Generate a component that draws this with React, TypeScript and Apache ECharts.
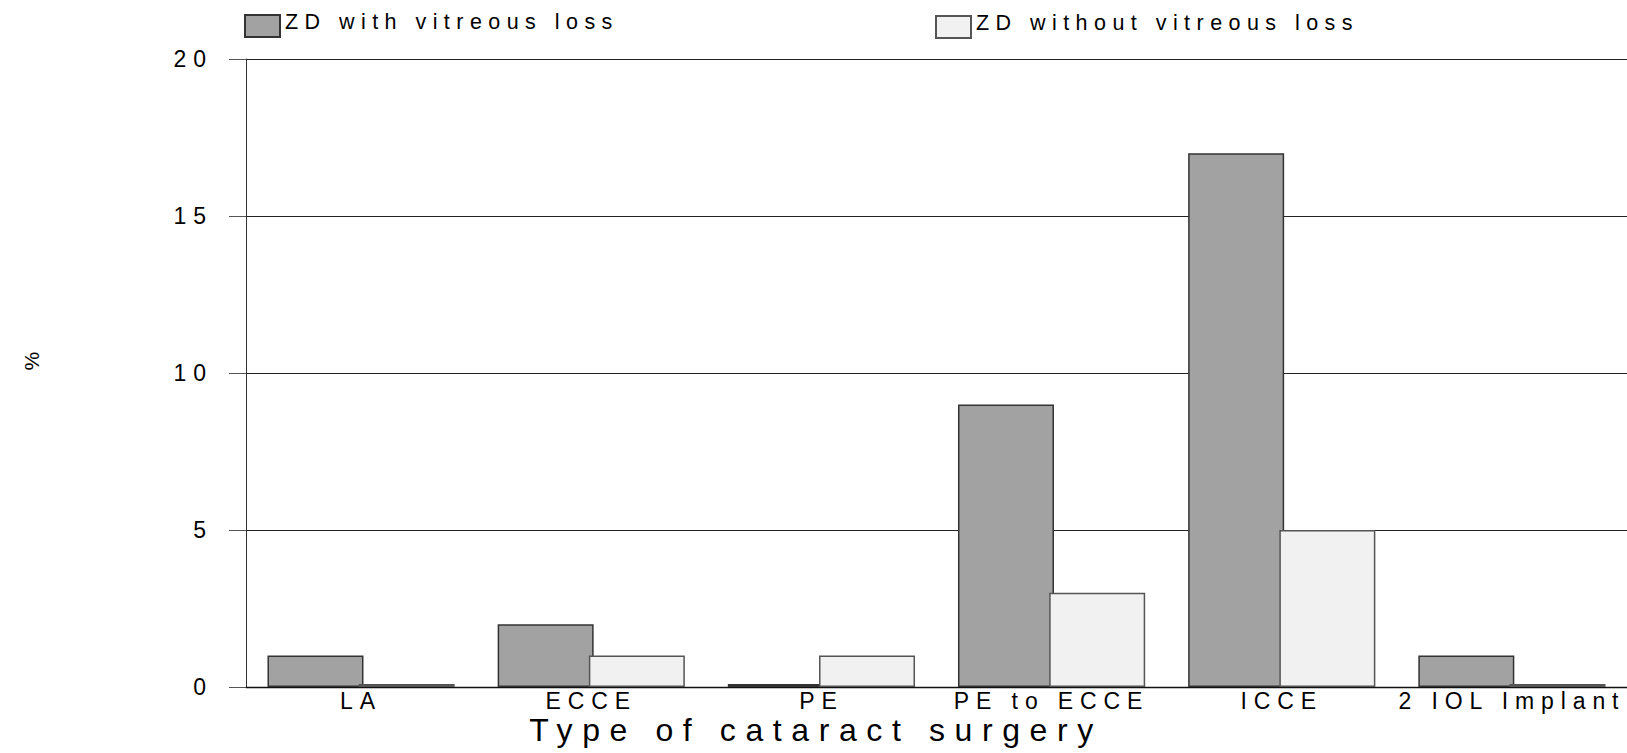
import React, { useEffect, useRef } from "react";
import * as echarts from "echarts";

const categories = ["LA", "ECCE", "PE", "PE to ECCE", "ICCE", "2 IOL Implant"];
const seriesNames = ["ZD with vitreous loss", "ZD without vitreous loss"];
const withLoss = [1, 2, 0, 9, 17, 1];
const withoutLoss = [0, 1, 1, 3, 5, 0];
const yTicks = [0, 5, 10, 15, 20];
const xTitle = "Type of cataract surgery";
const yTitle = "%";

const FONT = "'Liberation Sans', Arial, sans-serif";

export default function App() {
  const ref = useRef<HTMLDivElement>(null);

  useEffect(() => {
    if (!ref.current) return;
    const chart = echarts.init(ref.current, undefined, { renderer: "svg" });
    const legendBase = {
      orient: "horizontal",
      itemWidth: 35,
      itemHeight: 22,
      icon: "rect",
      padding: 0,
      selectedMode: false,
      formatter: "{t|{name}}",
      textStyle: {
        fontSize: 21.5,
        color: "#000",
        fontFamily: FONT,
        rich: { t: { fontSize: 21.5, fontFamily: FONT, color: "#000", padding: [0, 0, 8, 0] } },
      },
    };
    chart.setOption({
      animation: false,
      textStyle: { fontFamily: FONT },
      legend: [
        { ...legendBase, data: [seriesNames[0]], left: 244, top: 11 },
        { ...legendBase, data: [seriesNames[1]], left: 935, top: 12 },
      ],
      grid: { left: 246, right: 0, top: 59, bottom: 66, containLabel: false },
      xAxis: {
        type: "category",
        data: categories,
        axisLine: { show: true, lineStyle: { color: "#111", width: 1.3 } },
        axisTick: { show: false },
        axisLabel: { fontSize: 23, color: "#000", margin: 2, interval: 0, fontFamily: FONT },
        splitLine: { show: false },
      },
      yAxis: {
        type: "value",
        min: yTicks[0],
        max: yTicks[yTicks.length - 1],
        interval: yTicks[1] - yTicks[0],
        axisLine: { show: true, lineStyle: { color: "#333", width: 1 } },
        axisTick: { show: true, length: 17, lineStyle: { color: "#555", width: 1 } },
        axisLabel: { fontSize: 23, color: "#000", margin: 33, align: "right", fontFamily: FONT },
        splitLine: { show: true, lineStyle: { color: "#222", width: 1 } },
      },
      graphic: [
        {
          type: "text",
          x: 816,
          y: 730,
          style: {
            text: xTitle,
            fontSize: 32,
            fontFamily: FONT,
            fill: "#000",
            textAlign: "center",
            textVerticalAlign: "middle",
          },
        },
        {
          type: "text",
          x: 31,
          y: 358,
          rotation: Math.PI / 2,
          style: {
            text: yTitle,
            fontSize: 21,
            fontFamily: FONT,
            fill: "#000",
            textAlign: "center",
            textVerticalAlign: "middle",
          },
        },
      ],
      series: [
        {
          name: seriesNames[0],
          type: "bar",
          data: withLoss,
          barWidth: 96,
          barGap: "-5%",
          barMinHeight: 3,
          itemStyle: { color: "#a2a2a2", borderColor: "#333", borderWidth: 1.5 },
        },
        {
          name: seriesNames[1],
          type: "bar",
          data: withoutLoss,
          barWidth: 96,
          barGap: "-5%",
          barMinHeight: 3,
          itemStyle: { color: "#f1f1f1", borderColor: "#555", borderWidth: 1.5 },
        },
      ],
    });
    return () => chart.dispose();
  }, []);

  return (
    <div>
      <style>{"#chart-root text { letter-spacing: 0.3em; }"}</style>
      <div
        id="chart-root"
        ref={ref}
        style={{ position: "absolute", left: 0, top: 0, width: 1627, height: 753, background: "#fff" }}
      />
    </div>
  );
}
